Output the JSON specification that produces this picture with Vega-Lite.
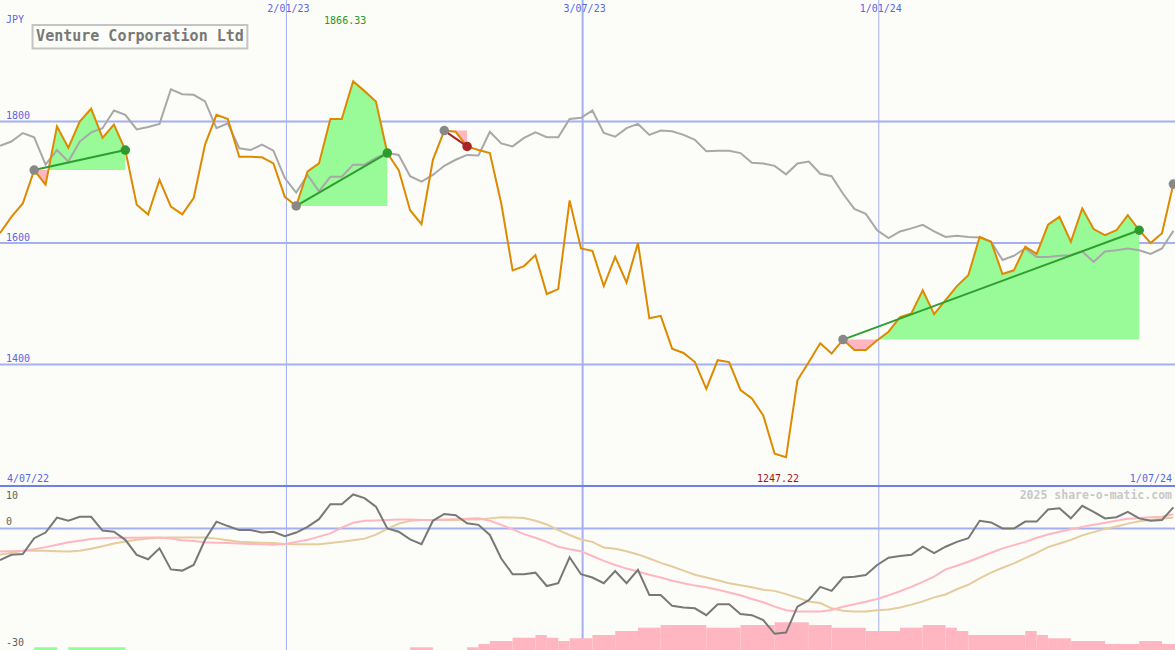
{
 "$schema": "https://vega.github.io/schema/vega-lite/v6.json",
 "background": "#fcfdf9",
 "padding": 0,
 "autosize": {"type": "none"},
 "width": 1175,
 "height": 650,
 "config": {"view": {"stroke": null}, "text": {"font": "DejaVu Sans Mono", "fontSize": 10, "baseline": "middle"}},
 "datasets": {
  "main": [
{"d":"2022-07-10","p":1616,"g":1760,"m":-7.8,"sg":-5.7,"sl":-6.5},
{"d":"2022-07-17","p":1643,"g":1767,"m":-6.5,"sg":-5.6,"sl":-6.0},
{"d":"2022-07-24","p":1665,"g":1781,"m":-6.3,"sg":-5.5,"sl":-5.5},
{"d":"2022-07-31","p":1720,"g":1774,"m":-2.4,"sg":-5.1,"sl":-5.5},
{"d":"2022-08-07","p":1696,"g":1729,"m":-1.0,"sg":-4.6,"sl":-5.5},
{"d":"2022-08-14","p":1792,"g":1753,"m":2.7,"sg":-4.0,"sl":-5.6},
{"d":"2022-08-21","p":1757,"g":1734,"m":1.9,"sg":-3.4,"sl":-5.7},
{"d":"2022-08-28","p":1800,"g":1767,"m":2.9,"sg":-3.0,"sl":-5.5},
{"d":"2022-09-04","p":1821,"g":1782,"m":2.9,"sg":-2.6,"sl":-5.0},
{"d":"2022-09-11","p":1773,"g":1789,"m":-0.5,"sg":-2.4,"sl":-4.4},
{"d":"2022-09-18","p":1795,"g":1818,"m":-0.8,"sg":-2.3,"sl":-3.7},
{"d":"2022-09-25","p":1753,"g":1811,"m":-2.8,"sg":-2.3,"sl":-3.2},
{"d":"2022-10-02","p":1663,"g":1787,"m":-6.5,"sg":-2.3,"sl":-2.8},
{"d":"2022-10-09","p":1647,"g":1791,"m":-7.6,"sg":-2.2,"sl":-2.5},
{"d":"2022-10-16","p":1704,"g":1796,"m":-4.9,"sg":-2.2,"sl":-2.3},
{"d":"2022-10-23","p":1660,"g":1853,"m":-10.1,"sg":-2.5,"sl":-2.2},
{"d":"2022-10-30","p":1647,"g":1845,"m":-10.4,"sg":-2.9,"sl":-2.2},
{"d":"2022-11-06","p":1674,"g":1844,"m":-9.0,"sg":-3.1,"sl":-2.2},
{"d":"2022-11-13","p":1762,"g":1833,"m":-2.8,"sg":-3.4,"sl":-2.2},
{"d":"2022-11-20","p":1811,"g":1789,"m":1.7,"sg":-3.5,"sl":-2.5},
{"d":"2022-11-27","p":1804,"g":1797,"m":0.6,"sg":-3.6,"sl":-2.9},
{"d":"2022-12-04","p":1742,"g":1756,"m":-0.4,"sg":-3.7,"sl":-3.3},
{"d":"2022-12-11","p":1742,"g":1753,"m":-0.4,"sg":-3.8,"sl":-3.4},
{"d":"2022-12-18","p":1741,"g":1762,"m":-1.0,"sg":-3.9,"sl":-3.5},
{"d":"2022-12-25","p":1731,"g":1752,"m":-0.8,"sg":-4.0,"sl":-3.6},
{"d":"2023-01-01","p":1676,"g":1707,"m":-1.9,"sg":-3.8,"sl":-3.8},
{"d":"2023-01-08","p":1661,"g":1683,"m":-1.0,"sg":-3.3,"sl":-3.9},
{"d":"2023-01-15","p":1718,"g":1712,"m":0.4,"sg":-2.8,"sl":-3.9},
{"d":"2023-01-22","p":1731,"g":1685,"m":2.3,"sg":-2.0,"sl":-3.9},
{"d":"2023-01-29","p":1804,"g":1709,"m":6.0,"sg":-1.2,"sl":-3.6},
{"d":"2023-02-05","p":1804,"g":1709,"m":6.0,"sg":0.2,"sl":-3.3},
{"d":"2023-02-12","p":1866.33,"g":1729,"m":8.4,"sg":1.4,"sl":-2.9},
{"d":"2023-02-19","p":1850,"g":1729,"m":7.5,"sg":1.9,"sl":-2.5},
{"d":"2023-02-26","p":1833,"g":1740,"m":5.4,"sg":2.0,"sl":-1.5},
{"d":"2023-03-05","p":1748,"g":1748,"m":0.0,"sg":2.1,"sl":-0.1},
{"d":"2023-03-12","p":1720,"g":1745,"m":-0.8,"sg":2.2,"sl":1.2},
{"d":"2023-03-19","p":1654,"g":1710,"m":-2.7,"sg":2.2,"sl":1.9},
{"d":"2023-03-26","p":1631,"g":1701,"m":-3.9,"sg":2.1,"sl":2.1},
{"d":"2023-04-02","p":1737,"g":1712,"m":1.9,"sg":2.1,"sl":2.1},
{"d":"2023-04-09","p":1785,"g":1727,"m":3.6,"sg":2.2,"sl":2.1},
{"d":"2023-04-16","p":1783,"g":1737,"m":3.3,"sg":2.3,"sl":2.1},
{"d":"2023-04-23","p":1759,"g":1745,"m":1.3,"sg":2.4,"sl":2.2},
{"d":"2023-04-30","p":1753,"g":1744,"m":0.9,"sg":2.5,"sl":2.2},
{"d":"2023-05-07","p":1748,"g":1783,"m":-1.6,"sg":1.9,"sl":2.5},
{"d":"2023-05-14","p":1665,"g":1764,"m":-7.4,"sg":0.9,"sl":2.8},
{"d":"2023-05-21","p":1555,"g":1759,"m":-11.3,"sg":-0.2,"sl":2.7},
{"d":"2023-05-28","p":1562,"g":1773,"m":-11.3,"sg":-1.4,"sl":2.6},
{"d":"2023-06-04","p":1580,"g":1782,"m":-10.9,"sg":-2.3,"sl":1.9},
{"d":"2023-06-11","p":1516,"g":1774,"m":-14.2,"sg":-3.3,"sl":1.0},
{"d":"2023-06-18","p":1524,"g":1774,"m":-13.5,"sg":-4.5,"sl":-0.4},
{"d":"2023-06-25","p":1670,"g":1804,"m":-7.1,"sg":-5.1,"sl":-1.6},
{"d":"2023-07-02","p":1591,"g":1806,"m":-11.3,"sg":-5.6,"sl":-2.7},
{"d":"2023-07-09","p":1587,"g":1818,"m":-12.1,"sg":-6.8,"sl":-3.3},
{"d":"2023-07-16","p":1529,"g":1781,"m":-13.5,"sg":-8.0,"sl":-4.7},
{"d":"2023-07-23","p":1577,"g":1775,"m":-10.5,"sg":-9.0,"sl":-5.0},
{"d":"2023-07-30","p":1535,"g":1789,"m":-13.5,"sg":-9.9,"sl":-5.6},
{"d":"2023-08-06","p":1600,"g":1796,"m":-10.2,"sg":-10.6,"sl":-6.4},
{"d":"2023-08-13","p":1476,"g":1778,"m":-16.4,"sg":-11.4,"sl":-7.4},
{"d":"2023-08-20","p":1480,"g":1785,"m":-16.4,"sg":-12.1,"sl":-8.5},
{"d":"2023-08-27","p":1426,"g":1784,"m":-19.1,"sg":-12.9,"sl":-9.4},
{"d":"2023-09-03","p":1419,"g":1778,"m":-19.5,"sg":-13.5,"sl":-10.4},
{"d":"2023-09-10","p":1404,"g":1770,"m":-19.7,"sg":-14.1,"sl":-11.4},
{"d":"2023-09-17","p":1360,"g":1751,"m":-21.4,"sg":-14.5,"sl":-12.1},
{"d":"2023-09-24","p":1407,"g":1752,"m":-18.7,"sg":-15.1,"sl":-12.8},
{"d":"2023-10-01","p":1404,"g":1752,"m":-18.7,"sg":-15.8,"sl":-13.5},
{"d":"2023-10-08","p":1358,"g":1748,"m":-21.1,"sg":-16.5,"sl":-14.0},
{"d":"2023-10-15","p":1344,"g":1732,"m":-21.4,"sg":-17.4,"sl":-14.5},
{"d":"2023-10-22","p":1316,"g":1731,"m":-22.6,"sg":-18.2,"sl":-15.1},
{"d":"2023-10-29","p":1253,"g":1727,"m":-26.0,"sg":-19.3,"sl":-15.4},
{"d":"2023-11-05","p":1247.22,"g":1713,"m":-25.7,"sg":-20.2,"sl":-16.2},
{"d":"2023-11-12","p":1374,"g":1731,"m":-19.3,"sg":-20.5,"sl":-17.1},
{"d":"2023-11-19","p":1404,"g":1734,"m":-17.7,"sg":-20.5,"sl":-18.0},
{"d":"2023-11-26","p":1435,"g":1714,"m":-14.4,"sg":-20.5,"sl":-18.4},
{"d":"2023-12-03","p":1418,"g":1710,"m":-15.4,"sg":-20.1,"sl":-19.7},
{"d":"2023-12-10","p":1441,"g":1681,"m":-12.1,"sg":-19.3,"sl":-20.3},
{"d":"2023-12-17","p":1424,"g":1656,"m":-11.9,"sg":-18.7,"sl":-20.5},
{"d":"2023-12-24","p":1424,"g":1648,"m":-11.5,"sg":-18.1,"sl":-20.5},
{"d":"2023-12-31","p":1440,"g":1621,"m":-9.0,"sg":-17.4,"sl":-20.2},
{"d":"2024-01-07","p":1454,"g":1608,"m":-7.2,"sg":-16.5,"sl":-20.0},
{"d":"2024-01-14","p":1478,"g":1619,"m":-6.8,"sg":-15.5,"sl":-19.5},
{"d":"2024-01-21","p":1484,"g":1624,"m":-6.5,"sg":-14.4,"sl":-18.8},
{"d":"2024-01-28","p":1522,"g":1630,"m":-4.5,"sg":-13.2,"sl":-18.0},
{"d":"2024-02-04","p":1483,"g":1619,"m":-6.1,"sg":-11.9,"sl":-17.0},
{"d":"2024-02-11","p":1506,"g":1610,"m":-4.5,"sg":-10.1,"sl":-16.3},
{"d":"2024-02-18","p":1529,"g":1612,"m":-3.3,"sg":-9.2,"sl":-15.0},
{"d":"2024-02-25","p":1547,"g":1610,"m":-2.4,"sg":-8.2,"sl":-13.9},
{"d":"2024-03-03","p":1610,"g":1609,"m":1.9,"sg":-7.1,"sl":-12.3},
{"d":"2024-03-10","p":1602,"g":1602,"m":1.5,"sg":-6.0,"sl":-10.9},
{"d":"2024-03-17","p":1549,"g":1572,"m":0.0,"sg":-4.9,"sl":-9.7},
{"d":"2024-03-24","p":1555,"g":1579,"m":0.0,"sg":-4.1,"sl":-8.6},
{"d":"2024-03-31","p":1594,"g":1591,"m":1.7,"sg":-3.3,"sl":-7.3},
{"d":"2024-04-07","p":1582,"g":1577,"m":1.7,"sg":-2.3,"sl":-6.0},
{"d":"2024-04-14","p":1630,"g":1577,"m":4.7,"sg":-1.5,"sl":-4.6},
{"d":"2024-04-21","p":1643,"g":1579,"m":5.0,"sg":-0.8,"sl":-3.7},
{"d":"2024-04-28","p":1602,"g":1580,"m":2.5,"sg":-0.2,"sl":-2.8},
{"d":"2024-05-05","p":1657,"g":1586,"m":5.6,"sg":0.4,"sl":-1.7},
{"d":"2024-05-12","p":1623,"g":1569,"m":4.1,"sg":0.9,"sl":-0.9},
{"d":"2024-05-19","p":1613,"g":1586,"m":2.5,"sg":1.4,"sl":-0.1},
{"d":"2024-05-26","p":1621,"g":1588,"m":2.8,"sg":1.9,"sl":0.5},
{"d":"2024-06-02","p":1646,"g":1591,"m":4.1,"sg":2.4,"sl":1.2},
{"d":"2024-06-09","p":1621,"g":1588,"m":2.5,"sg":2.6,"sl":1.8},
{"d":"2024-06-16","p":1600,"g":1582,"m":1.9,"sg":2.8,"sl":2.1},
{"d":"2024-06-23","p":1616,"g":1591,"m":2.1,"sg":2.9,"sl":2.4},
{"d":"2024-06-30","p":1697,"g":1620,"m":5.2,"sg":3.5,"sl":2.7}
  ],
  "shade": [
{"seg":"Ap","kind":"p","d":"2022-07-31","hi":1720,"lo":1720},
{"seg":"Ap","kind":"p","d":"2022-08-07","hi":1720,"lo":1696},
{"seg":"Ap","kind":"p","d":"2022-08-09","hi":1720,"lo":1720},
{"seg":"Ag","kind":"g","d":"2022-08-09","hi":1720,"lo":1720},
{"seg":"Ag","kind":"g","d":"2022-08-14","hi":1792,"lo":1720},
{"seg":"Ag","kind":"g","d":"2022-08-21","hi":1757,"lo":1720},
{"seg":"Ag","kind":"g","d":"2022-08-28","hi":1800,"lo":1720},
{"seg":"Ag","kind":"g","d":"2022-09-04","hi":1821,"lo":1720},
{"seg":"Ag","kind":"g","d":"2022-09-11","hi":1773,"lo":1720},
{"seg":"Ag","kind":"g","d":"2022-09-18","hi":1795,"lo":1720},
{"seg":"Ag","kind":"g","d":"2022-09-25","hi":1753,"lo":1720},
{"seg":"Bg","kind":"g","d":"2023-01-08","hi":1661,"lo":1661},
{"seg":"Bg","kind":"g","d":"2023-01-15","hi":1718,"lo":1661},
{"seg":"Bg","kind":"g","d":"2023-01-22","hi":1731,"lo":1661},
{"seg":"Bg","kind":"g","d":"2023-01-29","hi":1804,"lo":1661},
{"seg":"Bg","kind":"g","d":"2023-02-05","hi":1804,"lo":1661},
{"seg":"Bg","kind":"g","d":"2023-02-12","hi":1866.33,"lo":1661},
{"seg":"Bg","kind":"g","d":"2023-02-19","hi":1850,"lo":1661},
{"seg":"Bg","kind":"g","d":"2023-02-26","hi":1833,"lo":1661},
{"seg":"Bg","kind":"g","d":"2023-03-05","hi":1748,"lo":1661},
{"seg":"Cp","kind":"p","d":"2023-04-09","hi":1785,"lo":1785},
{"seg":"Cp","kind":"p","d":"2023-04-16","hi":1785,"lo":1783},
{"seg":"Cp","kind":"p","d":"2023-04-23","hi":1785,"lo":1759},
{"seg":"Dp","kind":"p","d":"2023-12-10","hi":1441,"lo":1441},
{"seg":"Dp","kind":"p","d":"2023-12-17","hi":1441,"lo":1424},
{"seg":"Dp","kind":"p","d":"2023-12-24","hi":1441,"lo":1424},
{"seg":"Dp","kind":"p","d":"2023-12-31","hi":1441,"lo":1440},
{"seg":"Dp","kind":"p","d":"2024-01-01","hi":1441,"lo":1441},
{"seg":"Dg","kind":"g","d":"2024-01-01","hi":1441,"lo":1441},
{"seg":"Dg","kind":"g","d":"2024-01-07","hi":1454,"lo":1441},
{"seg":"Dg","kind":"g","d":"2024-01-14","hi":1478,"lo":1441},
{"seg":"Dg","kind":"g","d":"2024-01-21","hi":1484,"lo":1441},
{"seg":"Dg","kind":"g","d":"2024-01-28","hi":1522,"lo":1441},
{"seg":"Dg","kind":"g","d":"2024-02-04","hi":1483,"lo":1441},
{"seg":"Dg","kind":"g","d":"2024-02-11","hi":1506,"lo":1441},
{"seg":"Dg","kind":"g","d":"2024-02-18","hi":1529,"lo":1441},
{"seg":"Dg","kind":"g","d":"2024-02-25","hi":1547,"lo":1441},
{"seg":"Dg","kind":"g","d":"2024-03-03","hi":1610,"lo":1441},
{"seg":"Dg","kind":"g","d":"2024-03-10","hi":1602,"lo":1441},
{"seg":"Dg","kind":"g","d":"2024-03-17","hi":1549,"lo":1441},
{"seg":"Dg","kind":"g","d":"2024-03-24","hi":1555,"lo":1441},
{"seg":"Dg","kind":"g","d":"2024-03-31","hi":1594,"lo":1441},
{"seg":"Dg","kind":"g","d":"2024-04-07","hi":1582,"lo":1441},
{"seg":"Dg","kind":"g","d":"2024-04-14","hi":1630,"lo":1441},
{"seg":"Dg","kind":"g","d":"2024-04-21","hi":1643,"lo":1441},
{"seg":"Dg","kind":"g","d":"2024-04-28","hi":1602,"lo":1441},
{"seg":"Dg","kind":"g","d":"2024-05-05","hi":1657,"lo":1441},
{"seg":"Dg","kind":"g","d":"2024-05-12","hi":1623,"lo":1441},
{"seg":"Dg","kind":"g","d":"2024-05-19","hi":1613,"lo":1441},
{"seg":"Dg","kind":"g","d":"2024-05-26","hi":1621,"lo":1441},
{"seg":"Dg","kind":"g","d":"2024-06-02","hi":1646,"lo":1441},
{"seg":"Dg","kind":"g","d":"2024-06-09","hi":1621,"lo":1441}
  ],
  "trend": [
{"seg":"T1","kind":"up","d":"2022-07-31","v":1720},{"seg":"T1","kind":"up","d":"2022-09-25","v":1753},
{"seg":"T2","kind":"up","d":"2023-01-08","v":1661},{"seg":"T2","kind":"up","d":"2023-03-05","v":1748},
{"seg":"T3","kind":"down","d":"2023-04-09","v":1785},{"seg":"T3","kind":"down","d":"2023-04-23","v":1759},
{"seg":"T4","kind":"up","d":"2023-12-10","v":1441},{"seg":"T4","kind":"up","d":"2024-06-09","v":1621}
  ],
  "dots": [
{"kind":"start","d":"2022-07-31","v":1720},
{"kind":"start","d":"2023-01-08","v":1661},
{"kind":"start","d":"2023-04-09","v":1785},
{"kind":"start","d":"2023-12-10","v":1441},
{"kind":"start","d":"2024-06-30","v":1697},
{"kind":"up","d":"2022-09-25","v":1753},
{"kind":"up","d":"2023-03-05","v":1748},
{"kind":"up","d":"2024-06-09","v":1621},
{"kind":"down","d":"2023-04-23","v":1759}
  ],
  "bars": [
{"kind":"g","x0":"2022-07-31","x1":"2022-08-14","top":-29.33},
{"kind":"g","x0":"2022-08-21","x1":"2022-09-25","top":-29.33},
{"kind":"p","x0":"2023-03-19","x1":"2023-04-02","top":-29.33},
{"kind":"p","x0":"2023-04-23","x1":"2023-04-30","top":-29.33},
{"kind":"p","x0":"2023-04-30","x1":"2023-05-07","top":-28.52},
{"kind":"p","x0":"2023-05-07","x1":"2023-05-21","top":-27.78},
{"kind":"p","x0":"2023-05-21","x1":"2023-06-04","top":-26.96},
{"kind":"p","x0":"2023-06-04","x1":"2023-06-11","top":-26.3},
{"kind":"p","x0":"2023-06-11","x1":"2023-06-18","top":-26.96},
{"kind":"p","x0":"2023-06-18","x1":"2023-06-25","top":-27.78},
{"kind":"p","x0":"2023-06-25","x1":"2023-07-09","top":-27.11},
{"kind":"p","x0":"2023-07-09","x1":"2023-07-23","top":-26.3},
{"kind":"p","x0":"2023-07-23","x1":"2023-08-06","top":-25.31},
{"kind":"p","x0":"2023-08-06","x1":"2023-08-20","top":-24.49},
{"kind":"p","x0":"2023-08-20","x1":"2023-09-17","top":-23.83},
{"kind":"p","x0":"2023-09-17","x1":"2023-10-08","top":-24.49},
{"kind":"p","x0":"2023-10-08","x1":"2023-10-29","top":-23.83},
{"kind":"p","x0":"2023-10-29","x1":"2023-11-19","top":-23.16},
{"kind":"p","x0":"2023-11-19","x1":"2023-12-03","top":-23.83},
{"kind":"p","x0":"2023-12-03","x1":"2023-12-24","top":-24.49},
{"kind":"p","x0":"2023-12-24","x1":"2024-01-14","top":-25.31},
{"kind":"p","x0":"2024-01-14","x1":"2024-01-28","top":-24.49},
{"kind":"p","x0":"2024-01-28","x1":"2024-02-11","top":-23.83},
{"kind":"p","x0":"2024-02-11","x1":"2024-02-18","top":-24.49},
{"kind":"p","x0":"2024-02-18","x1":"2024-02-25","top":-25.31},
{"kind":"p","x0":"2024-02-25","x1":"2024-03-31","top":-26.3},
{"kind":"p","x0":"2024-03-31","x1":"2024-04-07","top":-25.31},
{"kind":"p","x0":"2024-04-07","x1":"2024-04-14","top":-26.3},
{"kind":"p","x0":"2024-04-14","x1":"2024-04-28","top":-27.11},
{"kind":"p","x0":"2024-04-28","x1":"2024-05-19","top":-27.78},
{"kind":"p","x0":"2024-05-19","x1":"2024-06-09","top":-28.52},
{"kind":"p","x0":"2024-06-09","x1":"2024-06-23","top":-27.78},
{"kind":"p","x0":"2024-06-23","x1":"2024-07-07","top":-28.52}
  ],
  "vgrid": [{"d":"2023-01-02","lab":"2/01/23"},{"d":"2023-07-03","lab":"3/07/23"},{"d":"2024-01-01","lab":"1/01/24"}],
  "hgrid": [{"v":1400},{"v":1600},{"v":1800}]
 },
 "resolve": {"scale": {"y": "independent", "color": "independent"}},
 "layer": [
  {
   "resolve": {"scale": {"color": "independent"}},
   "layer": [
    {"data": {"name": "vgrid"}, "mark": {"type": "rule", "color": "#a4b0f0"},
     "encoding": {"x": {"field": "d", "type": "temporal", "scale": {"type": "utc", "domain": [{"year": 2022, "month": 7, "date": 10, "utc": true}, {"year": 2024, "month": 7, "date": 1, "utc": true}]}, "axis": null},
      "strokeWidth": {"condition": {"test": "datum.lab === '3/07/23'", "value": 2}, "value": 1}}},
    {"data": {"name": "hgrid"}, "mark": {"type": "rule", "color": "#a4b0f0", "strokeWidth": 2},
     "encoding": {"y": {"field": "v", "type": "quantitative", "scale": {"domain": [930, 2000], "nice": false, "zero": false}, "axis": null}}},
    {"data": {"name": "hgrid"}, "mark": {"type": "text", "align": "left", "dx": 6, "dy": -5, "color": "#5a64e6"},
     "encoding": {"x": {"datum": {"year": 2022, "month": 7, "date": 10, "utc": true}, "type": "temporal"},
      "y": {"field": "v", "type": "quantitative"}, "text": {"field": "v", "type": "nominal"}}},
    {"data": {"name": "vgrid"}, "mark": {"type": "text", "align": "center", "dx": 2, "dy": 9, "color": "#5a64e6"},
     "encoding": {"x": {"field": "d", "type": "temporal"}, "y": {"datum": 2000}, "text": {"field": "lab", "type": "nominal"}}},
    {"data": {"name": "shade"}, "mark": {"type": "area", "opacity": 1},
     "encoding": {"x": {"field": "d", "type": "temporal"}, "y": {"field": "hi", "type": "quantitative"}, "y2": {"field": "lo"},
      "color": {"field": "kind", "type": "nominal", "scale": {"domain": ["g", "p"], "range": ["#98fb98", "#ffb6c1"]}, "legend": null},
      "detail": {"field": "seg"}}},
    {"data": {"name": "main"}, "mark": {"type": "line", "color": "#a8a8a8", "strokeWidth": 2},
     "encoding": {"x": {"field": "d", "type": "temporal"}, "y": {"field": "g", "type": "quantitative"}}},
    {"data": {"name": "main"}, "mark": {"type": "line", "color": "#dd8a00", "strokeWidth": 2},
     "encoding": {"x": {"field": "d", "type": "temporal"}, "y": {"field": "p", "type": "quantitative"}}},
    {"data": {"name": "trend"}, "mark": {"type": "line", "strokeWidth": 2},
     "encoding": {"x": {"field": "d", "type": "temporal"}, "y": {"field": "v", "type": "quantitative"},
      "color": {"field": "kind", "type": "nominal", "scale": {"domain": ["up", "down"], "range": ["#2e9e2e", "#aa2222"]}, "legend": null},
      "detail": {"field": "seg"}}},
    {"data": {"name": "dots"}, "mark": {"type": "circle", "size": 90, "opacity": 1},
     "encoding": {"x": {"field": "d", "type": "temporal"}, "y": {"field": "v", "type": "quantitative"},
      "color": {"field": "kind", "type": "nominal", "scale": {"domain": ["start", "up", "down"], "range": ["#888888", "#2e9a2e", "#aa2222"]}, "legend": null}}},
    {"data": {"values": [{}]}, "mark": {"type": "text", "text": "JPY", "align": "left", "dx": 6, "dy": 20, "color": "#5a64e6"},
     "encoding": {"x": {"datum": {"year": 2022, "month": 7, "date": 10, "utc": true}, "type": "temporal"}, "y": {"datum": 2000}}},
    {"data": {"values": [{}]}, "mark": {"type": "text", "text": "1866.33", "align": "center", "dx": -8, "dy": 21, "color": "#229922"},
     "encoding": {"x": {"datum": {"year": 2023, "month": 2, "date": 12, "utc": true}, "type": "temporal"}, "y": {"datum": 2000}}},
    {"data": {"values": [{}]}, "mark": {"type": "text", "text": "1247.22", "align": "center", "dx": -8, "dy": -7, "color": "#aa1111"},
     "encoding": {"x": {"datum": {"year": 2023, "month": 11, "date": 5, "utc": true}, "type": "temporal"}, "y": {"datum": 1200}}},
    {"data": {"values": [{}]}, "mark": {"type": "text", "text": "4/07/22", "align": "left", "dx": 7, "dy": -7, "color": "#5a64e6"},
     "encoding": {"x": {"datum": {"year": 2022, "month": 7, "date": 10, "utc": true}, "type": "temporal"}, "y": {"datum": 1200}}},
    {"data": {"values": [{}]}, "mark": {"type": "text", "text": "1/07/24", "align": "right", "dx": -3, "dy": -7, "color": "#5a64e6"},
     "encoding": {"x": {"datum": {"year": 2024, "month": 7, "date": 1, "utc": true}, "type": "temporal"}, "y": {"datum": 1200}}},
    {"data": {"values": [{}]}, "mark": {"type": "rect", "fill": "#fcfdf9", "stroke": "#c4c4c4", "strokeWidth": 2},
     "encoding": {"x": {"datum": {"year": 2022, "month": 7, "date": 30, "utc": true}, "type": "temporal"},
      "x2": {"datum": {"year": 2022, "month": 12, "date": 9, "utc": true}},
      "y": {"datum": 1959}, "y2": {"datum": 1920}}},
    {"data": {"values": [{}]}, "mark": {"type": "text", "text": "Venture Corporation Ltd", "align": "center", "fontSize": 15, "fontWeight": "bold", "color": "#787878"},
     "encoding": {"x": {"datum": {"year": 2022, "month": 10, "date": 4, "utc": true}, "type": "temporal"}, "y": {"datum": 1940}}},
    {"data": {"values": [{}]}, "mark": {"type": "rule", "color": "#6e7eeb", "strokeWidth": 2},
     "encoding": {"y": {"datum": 1200}}}
   ]
  },
  {
   "resolve": {"scale": {"color": "independent"}},
   "layer": [
    {"data": {"values": [{}]}, "mark": {"type": "rule", "color": "#a4b0f0", "strokeWidth": 2},
     "encoding": {"y": {"datum": 0, "type": "quantitative", "scale": {"domain": [-30, 130.49], "nice": false, "zero": false}, "axis": null}}},
    {"data": {"name": "bars"}, "mark": {"type": "rect", "clip": true},
     "encoding": {"x": {"field": "x0", "type": "temporal"}, "x2": {"field": "x1"},
      "y": {"field": "top", "type": "quantitative"}, "y2": {"datum": -30},
      "color": {"field": "kind", "type": "nominal", "scale": {"domain": ["g", "p"], "range": ["#98fb98", "#ffb6c1"]}, "legend": null}}},
    {"data": {"name": "main"}, "mark": {"type": "line", "color": "#e6cc9c", "strokeWidth": 2},
     "encoding": {"x": {"field": "d", "type": "temporal"}, "y": {"field": "sl", "type": "quantitative"}}},
    {"data": {"name": "main"}, "mark": {"type": "line", "color": "#ffb6c1", "strokeWidth": 2},
     "encoding": {"x": {"field": "d", "type": "temporal"}, "y": {"field": "sg", "type": "quantitative"}}},
    {"data": {"name": "main"}, "mark": {"type": "line", "color": "#787878", "strokeWidth": 2},
     "encoding": {"x": {"field": "d", "type": "temporal"}, "y": {"field": "m", "type": "quantitative"}}},
    {"data": {"values": [{}]}, "mark": {"type": "text", "text": "10", "align": "left", "dx": 6, "dy": 8, "color": "#606060"},
     "encoding": {"x": {"datum": {"year": 2022, "month": 7, "date": 10, "utc": true}, "type": "temporal"}, "y": {"datum": 10}}},
    {"data": {"values": [{}]}, "mark": {"type": "text", "text": "0", "align": "left", "dx": 6, "dy": -6, "color": "#606060"},
     "encoding": {"x": {"datum": {"year": 2022, "month": 7, "date": 10, "utc": true}, "type": "temporal"}, "y": {"datum": 0}}},
    {"data": {"values": [{}]}, "mark": {"type": "text", "text": "-30", "align": "left", "dx": 6, "dy": -7, "color": "#606060"},
     "encoding": {"x": {"datum": {"year": 2022, "month": 7, "date": 10, "utc": true}, "type": "temporal"}, "y": {"datum": -30}}},
    {"data": {"values": [{}]}, "mark": {"type": "text", "text": "2025 share-o-matic.com", "align": "right", "dx": -3, "dy": 8, "fontSize": 11.5, "fontWeight": "bold", "color": "#c8c8c8"},
     "encoding": {"x": {"datum": {"year": 2024, "month": 7, "date": 1, "utc": true}, "type": "temporal"}, "y": {"datum": 10}}}
   ]
  }
 ]
}
